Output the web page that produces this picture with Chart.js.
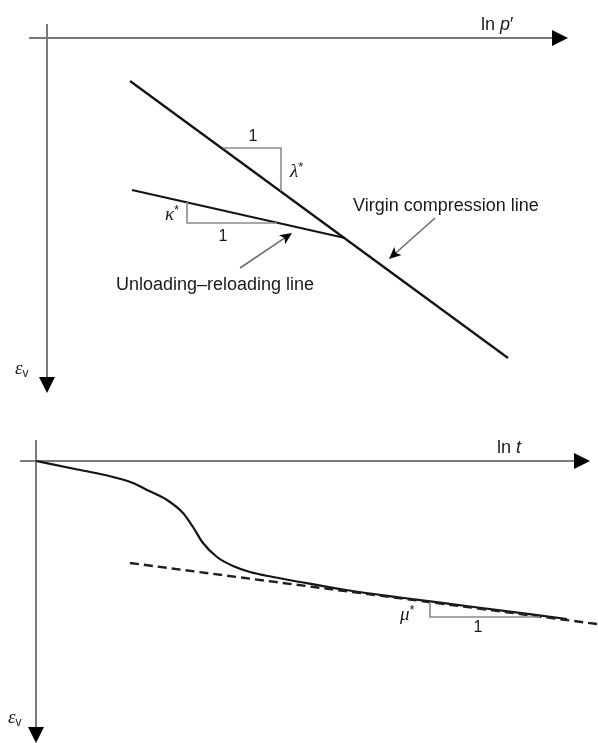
<!DOCTYPE html>
<html>
<head>
<meta charset="utf-8">
<script src="https://cdn.jsdelivr.net/npm/chart.js@4/dist/chart.umd.min.js"></script>
<style>
  html, body { margin: 0; padding: 0; background: #fff; }
  #wrap { position: relative; width: 598px; height: 743px; overflow: hidden; }
  canvas { position: absolute; left: 0; }
  #top { top: 0; }
  #bottom { top: 420px; }
</style>
</head>
<body>
<div id="wrap">
  <canvas id="top" width="598" height="420"></canvas>
  <canvas id="bottom" width="598" height="323"></canvas>
</div>
<script>
// ---- Compression diagram: ln p' against volumetric strain (diagram units) ----
const pAxisRange = [-1.8, 52.1];          // horizontal ln p' axis, arrow at the end
const epsAxisRangeTop = [-1.4, 35.5];     // vertical strain axis, arrow at the end
const virginLine = [[8.3, 4.3], [46.1, 32.0]];
const unloadLine = [[8.5, 15.2], [29.8, 20.0]];
const lambdaTriangle = [[17.6, 11.0], [23.4, 11.0], [23.4, 15.3]];
const kappaTriangle = [[14.0, 16.4], [14.0, 18.5], [23.0, 18.5]];
const virginPointer = [[38.8, 18.0], [34.2, 22.1]];
const unloadPointer = [[19.3, 23.0], [24.5, 19.5]];

// ---- Creep diagram: ln t against volumetric strain ----
const tAxisRange = [-1.6, 55.4];
const epsAxisRangeBottom = [-2.1, 28.2];
const creepCurve = [[0, 0], [3.9, 0.8], [6.9, 1.4], [9.7, 2.2], [11.1, 2.9], [13.1, 3.9],
  [14.7, 5.2], [15.7, 6.6], [16.7, 8.2], [18.1, 9.6], [19.7, 10.5], [21.4, 11.1],
  [23.7, 11.6], [26.4, 12.1], [31.0, 12.9], [36.4, 13.65], [43.0, 14.5], [53.1, 15.8]];
const secondaryLine = [[9.4, 10.2], [56.1, 16.3]];
const muTriangle = [[39.4, 14.1], [39.4, 15.6], [50.4, 15.6]];

const SANS = '"Liberation Sans", Arial, sans-serif';
const SERIF = '"Liberation Serif", "DejaVu Serif", serif';

// text labels: [x, y, align, baseline, segments]
// segment: [text, font, size, dy]
const topLabels = [
  [43.4, -0.8, 'left', 'alphabetic', [['ln ', 'normal', 18, 0], ['p', 'italic', 18, 0], ['\u2032', 'normal', 18, 0]]],
  [20.6, 9.9, 'center', 'middle', [['1', 'normal', 16, 0]]],
  [24.3, 13.4, 'left', 'middle', [['\u03bb', 'italicserif', 19, 0], ['*', 'normal', 13, -5]]],
  [11.8, 17.7, 'left', 'middle', [['\u03ba', 'italicserif', 19, 0], ['*', 'normal', 13, -5]]],
  [17.6, 19.9, 'center', 'middle', [['1', 'normal', 16, 0]]],
  [16.8, 24.7, 'center', 'middle', [['Unloading\u2013reloading line', 'normal', 18, 0]]],
  [39.9, 16.8, 'center', 'middle', [['Virgin compression line', 'normal', 18, 0]]],
  [-3.2, 33.1, 'left', 'middle', [['\u03b5', 'italicserif', 19, 0], ['v', 'normal', 12, 5]]]
];
const bottomLabels = [
  [46.1, -0.8, 'left', 'alphabetic', [['ln ', 'normal', 18, 0], ['t', 'italic', 18, 0]]],
  [36.4, 15.4, 'left', 'middle', [['\u03bc', 'italicserif', 19, 0], ['*', 'normal', 13, -5]]],
  [44.2, 16.7, 'center', 'middle', [['1', 'normal', 16, 0]]],
  [-2.8, 25.7, 'left', 'middle', [['\u03b5', 'italicserif', 19, 0], ['v', 'normal', 12, 5]]]
];

function fontFor(kind, size) {
  if (kind === 'italicserif') return 'italic ' + size + 'px ' + SERIF;
  if (kind === 'italic') return 'italic ' + size + 'px ' + SANS;
  return size + 'px ' + SANS;
}

function drawRich(ctx, px, py, align, baseline, segs) {
  let total = 0;
  const widths = segs.map(s => { ctx.font = fontFor(s[1], s[2]); const w = ctx.measureText(s[0]).width; total += w; return w; });
  let x = align === 'center' ? px - total / 2 : (align === 'right' ? px - total : px);
  ctx.textAlign = 'left';
  ctx.textBaseline = baseline;
  ctx.fillStyle = '#1a1a1a';
  segs.forEach((s, i) => {
    ctx.font = fontFor(s[1], s[2]);
    ctx.fillText(s[0], x, py + s[3]);
    x += widths[i];
  });
}

function arrowHead(ctx, from, to, len, half, notch) {
  const ang = Math.atan2(to[1] - from[1], to[0] - from[0]);
  ctx.save();
  ctx.translate(to[0], to[1]);
  ctx.rotate(ang);
  ctx.beginPath();
  ctx.moveTo(0, 0);
  ctx.lineTo(-len, -half);
  ctx.lineTo(-len + notch, 0);
  ctx.lineTo(-len, half);
  ctx.closePath();
  ctx.fillStyle = '#000';
  ctx.fill();
  ctx.restore();
}

function makePlugin(hRange, vRange, pointers, labels) {
  return {
    id: 'diagram',
    beforeDatasetsDraw(chart) {
      const { ctx, scales: { x, y } } = chart;
      const X = v => x.getPixelForValue(v), Y = v => y.getPixelForValue(v);
      ctx.save();
      ctx.strokeStyle = '#7a7a7a';
      ctx.lineWidth = 2;
      // horizontal axis through the origin
      ctx.beginPath();
      ctx.moveTo(X(hRange[0]), Y(0));
      ctx.lineTo(X(hRange[1]) - 10, Y(0));
      ctx.stroke();
      // vertical axis through the origin
      ctx.beginPath();
      ctx.moveTo(X(0), Y(vRange[0]));
      ctx.lineTo(X(0), Y(vRange[1]) - 10);
      ctx.stroke();
      arrowHead(ctx, [X(0), Y(0)], [X(hRange[1]), Y(0)], 16, 8, 0);
      arrowHead(ctx, [X(0), Y(0)], [X(0), Y(vRange[1])], 16, 8, 0);
      ctx.restore();
    },
    afterDatasetsDraw(chart) {
      const { ctx, scales: { x, y } } = chart;
      const P = p => [x.getPixelForValue(p[0]), y.getPixelForValue(p[1])];
      ctx.save();
      pointers.forEach(pt => {
        const a = P(pt[0]), b = P(pt[1]);
        ctx.strokeStyle = '#6e6e6e';
        ctx.lineWidth = 1.6;
        ctx.beginPath();
        ctx.moveTo(a[0], a[1]);
        const ang = Math.atan2(b[1] - a[1], b[0] - a[0]);
        ctx.lineTo(b[0] - 6 * Math.cos(ang), b[1] - 6 * Math.sin(ang));
        ctx.stroke();
        arrowHead(ctx, a, b, 12, 5.5, 3);
      });
      labels.forEach(l => {
        const p = P([l[0], l[1]]);
        drawRich(ctx, p[0], p[1], l[2], l[3], l[4]);
      });
      ctx.restore();
    }
  };
}

const pts = arr => arr.map(p => ({ x: p[0], y: p[1] }));
const lineDs = (data, color, width, extra) => Object.assign({
  data: pts(data), showLine: true, borderColor: color, borderWidth: width,
  pointRadius: 0, fill: false, tension: 0
}, extra || {});

function makeChart(id, datasets, xr, yr, plugin) {
  return new Chart(document.getElementById(id), {
    type: 'scatter',
    data: { datasets },
    options: {
      responsive: false, animation: false, devicePixelRatio: 1,
      layout: { padding: 0 },
      plugins: { legend: { display: false }, tooltip: { enabled: false } },
      events: [],
      scales: {
        x: { type: 'linear', display: false, min: xr[0], max: xr[1] },
        y: { type: 'linear', display: false, reverse: true, min: yr[0], max: yr[1] }
      }
    },
    plugins: [plugin]
  });
}

makeChart('top', [
  lineDs(lambdaTriangle, '#8a8a8a', 1.6),
  lineDs(kappaTriangle, '#8a8a8a', 1.6),
  lineDs(virginLine, '#141414', 2.3),
  lineDs(unloadLine, '#141414', 2.3)
], [-4.7, 55.1], [-3.8, 38.2],
  makePlugin(pAxisRange, epsAxisRangeTop, [virginPointer, unloadPointer], topLabels));

makeChart('bottom', [
  lineDs(muTriangle, '#8a8a8a', 1.6),
  lineDs(secondaryLine, '#1e1e1e', 2.4, { borderDash: [9, 5] }),
  lineDs(creepCurve, '#141414', 2.2, { cubicInterpolationMode: 'monotone' })
], [-3.6, 56.2], [-4.1, 28.2],
  makePlugin(tAxisRange, epsAxisRangeBottom, [], bottomLabels));
</script>
</body>
</html>
